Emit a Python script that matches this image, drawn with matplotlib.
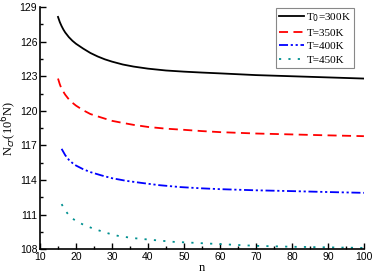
import matplotlib
matplotlib.use("Agg")
import matplotlib.pyplot as plt
from matplotlib.ticker import MultipleLocator

n_300 = [15, 15.5, 16, 16.5, 17, 18, 19, 20, 22, 24, 26, 28, 30, 33, 36, 40, 45, 50, 55, 60, 70, 80, 90, 100]
v_300 = [128.15, 127.7, 127.35, 127.05, 126.8, 126.4, 126.08, 125.82, 125.4, 125.02, 124.72, 124.47, 124.27, 124.02,
         123.84, 123.66, 123.5, 123.4, 123.32, 123.25, 123.1, 123.0, 122.9, 122.8]
n_350 = [15, 15.5, 16, 17, 18, 19, 20, 22, 24, 27, 30, 33, 36, 40, 45, 50, 55, 60, 70, 80, 90, 100]
v_350 = [122.8, 122.3, 121.9, 121.4, 121.0, 120.7, 120.45, 120.05, 119.72, 119.42, 119.13, 118.95, 118.78,
         118.6, 118.45, 118.35, 118.24, 118.15, 118.03, 117.95, 117.87, 117.8]
n_400 = [16, 17, 18, 19, 20, 22, 24, 27, 30, 34, 38, 43, 49, 55, 60, 70, 80, 90, 100]
v_400 = [116.7, 116.15, 115.75, 115.47, 115.25, 114.93, 114.68, 114.4, 114.15, 113.92, 113.75, 113.55, 113.38,
         113.27, 113.2, 113.1, 113.03, 112.95, 112.88]
n_450 = [16, 17, 18, 19, 20, 22, 25, 29, 32, 36, 41, 47, 53, 60, 70, 80, 90, 100]
v_450 = [111.9, 111.35, 110.95, 110.65, 110.45, 110.12, 109.75, 109.36, 109.12, 108.95, 108.8, 108.63, 108.54,
         108.43, 108.28, 108.2, 108.15, 108.1]
labels = [r"T$_0$=300K", "T=350K", "T=400K", "T=450K"]

fig = plt.figure(figsize=(3.74, 2.74), dpi=100)
ax = fig.add_axes([0.107, 0.091, 0.866, 0.883])

ax.plot(n_300, v_300, color="black", lw=1.3, ls="-", label=labels[0])
ax.plot(n_350, v_350, color="#ff0000", lw=1.3, ls=(0, (5, 3)), label=labels[1])
ax.plot(n_400, v_400, color="#0000ff", lw=1.3, ls=(0, (5, 1.5, 1.2, 1.5, 1.2, 1.5)), label=labels[2])
ax.plot(n_450, v_450, color="#009090", lw=1.3, ls=(0, (1.2, 4)), label=labels[3])

ax.set_xlim(10, 100)
ax.set_ylim(108, 129)
ax.xaxis.set_major_locator(MultipleLocator(10))
ax.xaxis.set_minor_locator(MultipleLocator(5))
ax.yaxis.set_major_locator(MultipleLocator(3))
ax.yaxis.set_minor_locator(MultipleLocator(1.5))
ax.tick_params(which="both", direction="in", width=1, labelsize=7.5, pad=2)
ax.tick_params(which="major", length=4)
ax.tick_params(which="minor", length=2.5)
for lab in ax.get_xticklabels() + ax.get_yticklabels():
    lab.set_fontfamily("Liberation Sans")

ax.spines["top"].set_visible(False)
ax.spines["right"].set_visible(False)
ax.spines["left"].set_linewidth(1.2)
ax.spines["bottom"].set_linewidth(1.2)

ax.set_xlabel("n", fontfamily="Liberation Serif", fontsize=9, labelpad=0)
ax.set_ylabel(r"N$_{cr}$(10$^6$N)", fontfamily="Liberation Serif", fontsize=9)
ax.yaxis.set_label_coords(-0.065, 0.5)

leg = ax.legend(loc="upper right", bbox_to_anchor=(0.97, 0.995), prop={"family": "Liberation Serif", "size": 8},
                frameon=True, fancybox=False, edgecolor="#888888", framealpha=1, handlelength=2.3,
                handletextpad=0.2, borderpad=0.25, labelspacing=0.35, borderaxespad=0)
leg.get_frame().set_linewidth(0.8)

fig.savefig("out.png", dpi=100)
